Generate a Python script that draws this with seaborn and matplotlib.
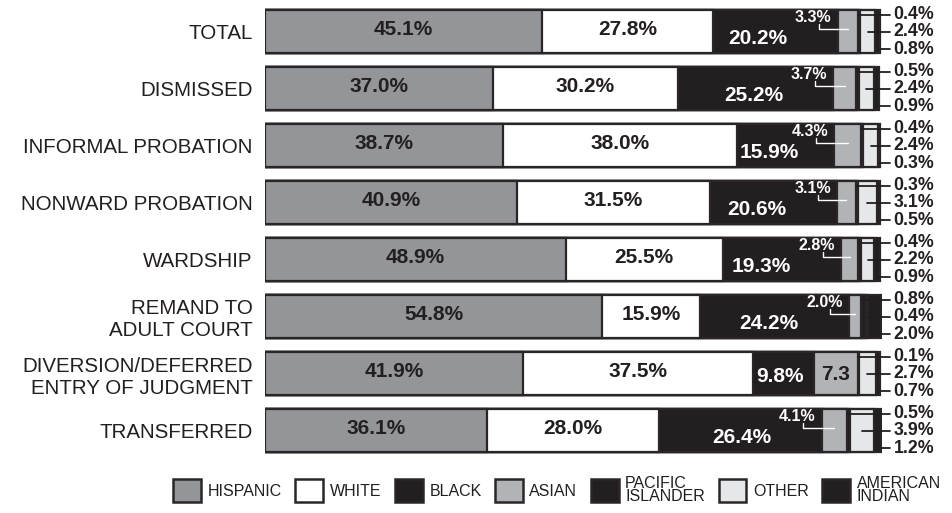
import numpy as np
import pandas as pd
import matplotlib
matplotlib.use("Agg")
import matplotlib.pyplot as plt
from matplotlib.patches import Patch
import seaborn as sns

# ---------------- data ----------------
categories = ["TOTAL", "DISMISSED", "INFORMAL PROBATION", "NONWARD PROBATION",
              "WARDSHIP", "REMAND TO\nADULT COURT",
              "DIVERSION/DEFERRED\nENTRY OF JUDGMENT", "TRANSFERRED"]
series_names = ["HISPANIC", "WHITE", "BLACK", "ASIAN", "PACIFIC\nISLANDER",
                "OTHER", "AMERICAN\nINDIAN"]
hispanic = [45.1, 37.0, 38.7, 40.9, 48.9, 54.8, 41.9, 36.1]
white = [27.8, 30.2, 38.0, 31.5, 25.5, 15.9, 37.5, 28.0]
black = [20.2, 25.2, 15.9, 20.6, 19.3, 24.2, 9.8, 26.4]
asian = [3.3, 3.7, 4.3, 3.1, 2.8, 2.0, 7.3, 4.1]
pacific = [0.4, 0.5, 0.4, 0.3, 0.4, 0.8, 0.1, 0.5]
other = [2.4, 2.4, 2.4, 3.1, 2.2, 0.4, 2.7, 3.9]
amind = [0.8, 0.9, 0.3, 0.5, 0.9, 2.0, 0.7, 1.2]

colors = ["#939598", "#ffffff", "#231f20", "#b1b3b6", "#231f20", "#e6e7e8", "#231f20"]
DARK = "#231f20"
EDGE = "#2a2627"

sns.set_theme(style="white")
plt.rcParams["font.family"] = ["Liberation Sans", "DejaVu Sans"]

vals = np.array([hispanic, white, black, asian, pacific, other, amind]).T  # rows x series
cum = np.cumsum(vals, axis=1)
starts = cum - vals

W, H = 953, 513
fig = plt.figure(figsize=(W / 100, H / 100), dpi=100)
px_per_unit = 6.15
xmax = 100.3
ax = fig.add_axes([265 / W, 1 - 459 / H, xmax * px_per_unit / W, 456 / H])

# cumulative bars, drawn from the longest to the shortest
for j in range(len(series_names) - 1, -1, -1):
    df = pd.DataFrame({"cat": categories, "val": cum[:, j]})
    sns.barplot(data=df, x="val", y="cat", orient="h", color=colors[j],
                saturation=1, width=0.75, edgecolor=EDGE, linewidth=1.6,
                ax=ax, order=categories)

ax.set_xlim(0, xmax)
ax.set_ylim(7.5, -0.5)
ax.set_xlabel("")
ax.set_ylabel("")
ax.set_xticks([])
for s in ax.spines.values():
    s.set_visible(False)
ax.tick_params(axis="y", length=0, pad=9, labelsize=14.8, labelcolor=DARK)
for lab in ax.get_yticklabels():
    lab.set_horizontalalignment("right")
    lab.set_multialignment("right")

bold = dict(fontweight="bold", fontsize=15)
lbl_x_right = 101.6
for i in range(len(categories)):
    # Hispanic & White
    for j in (0, 1):
        ax.text(starts[i, j] + vals[i, j] / 2, i - 0.03, f"{vals[i, j]:.1f}%",
                ha="center", va="center", color=DARK, **bold)
    # Black
    a_start = starts[i, 3]
    tw = 9.8  # approx label width in data units
    right = a_start - 8.0
    left = max(right - tw, starts[i, 2] + 0.4)
    dy = 0.05 if asian[i] >= 5 else 0.12
    ax.text(left, i + dy, f"{black[i]:.1f}%", ha="left", va="center",
            color="white", **bold)
    # Asian
    a_mid = a_start + asian[i] / 2
    if asian[i] >= 5:
        ax.text(a_mid, i + 0.02, f"{asian[i]:.1f}", ha="center", va="center",
                color=DARK, **bold)
    else:
        ax.text(a_start - 1.0, i - 0.25, f"{asian[i]:.1f}%", ha="right",
                va="center", color="white", fontweight="bold", fontsize=11.5)
        vx = a_start - 3.0
        ax.plot([vx, vx, a_mid], [i - 0.14, i - 0.04, i - 0.04], color="white",
                lw=1.0, clip_on=False, zorder=5)
    # right-hand labels: pacific islander, other, american indian
    pi_x = starts[i, 4]
    ot_x = starts[i, 5] + other[i] / 2
    ai_x = starts[i, 6] + amind[i] / 2
    for x0, yy, v in ((pi_x, i - 0.29, pacific[i]), (ot_x, i, other[i]),
                      (ai_x, i + 0.31, amind[i])):
        ax.plot([x0, lbl_x_right], [yy, yy], color=DARK, lw=1.3,
                clip_on=False, zorder=5)
        ax.text(lbl_x_right + 0.6, yy, f"{v:.1f}%", ha="left", va="center",
                color=DARK, fontweight="bold", fontsize=12.8, clip_on=False)

# legend
handles = [Patch(facecolor=c, edgecolor=EDGE, linewidth=1.8) for c in colors]
leg = fig.legend(handles, series_names, loc="center", ncol=7,
                 bbox_to_anchor=(557 / W, 1 - 490 / H), frameon=False,
                 handlelength=1.75, handleheight=1.85, handletextpad=0.4,
                 columnspacing=0.85,
                 prop={"size": 11.5})
for t in leg.get_texts():
    t.set_color(DARK)
    t.set_linespacing(0.85)

fig.savefig("out.png", dpi=100, facecolor="white")
